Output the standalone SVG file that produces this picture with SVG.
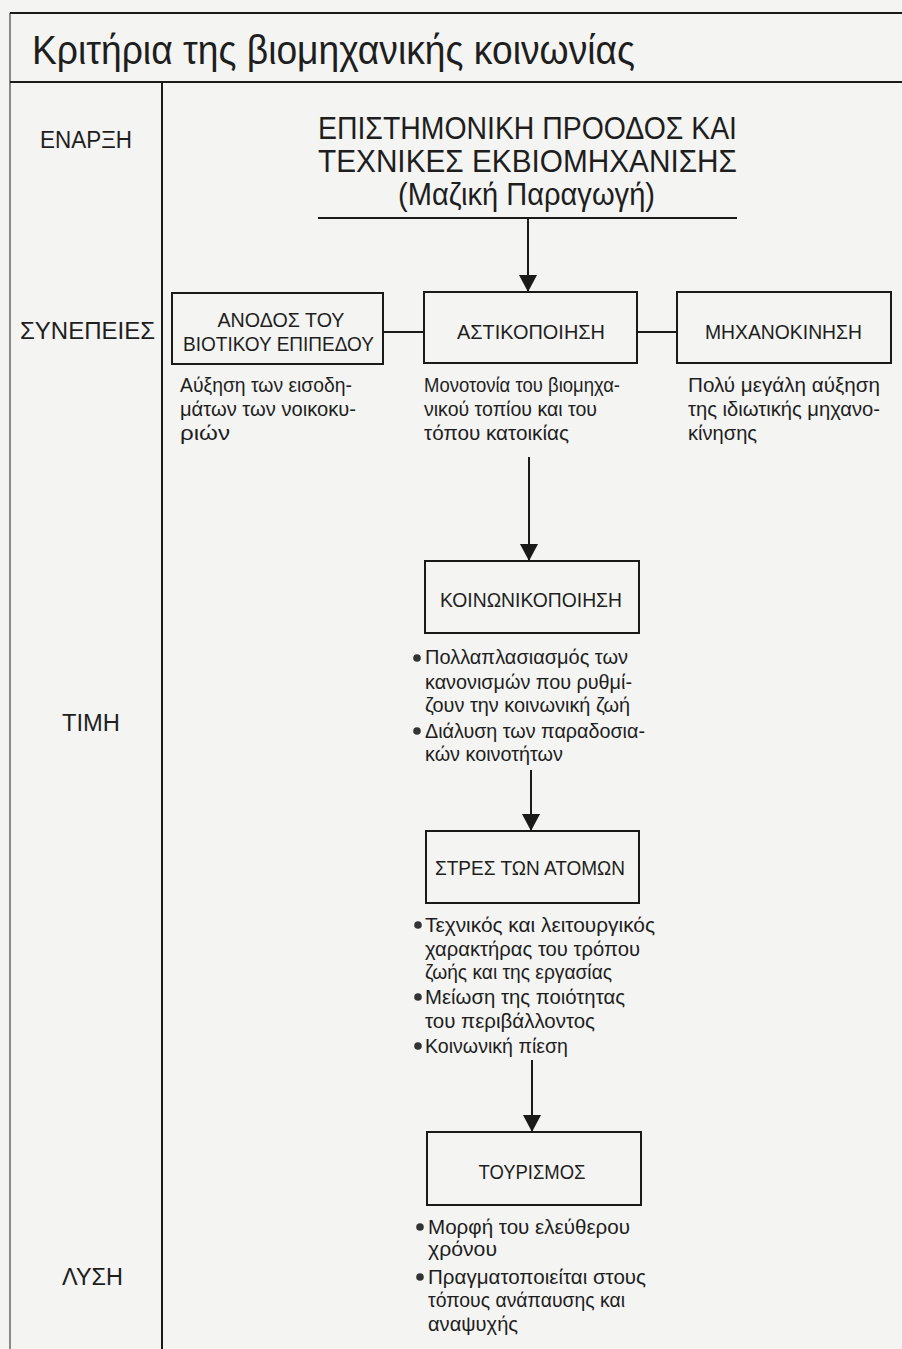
<svg xmlns="http://www.w3.org/2000/svg" width="902" height="1349" viewBox="0 0 902 1349">
<defs>
<style>
text{font-family:"Liberation Sans",Arial,sans-serif;fill:#1e1e1e}
.frame{stroke:#1a1a1a;stroke-width:2;fill:none}
.edge{stroke:#8a8a8a;stroke-width:2;fill:none}
.box{fill:none;stroke:#1a1a1a;stroke-width:2}
.con{stroke:#1a1a1a;stroke-width:2;fill:none}
.lbl{font-size:21px;text-anchor:middle}
.lbl2{font-size:20px;text-anchor:middle}
.desc{font-size:20px}
.bul{font-size:19.5px}
.side{font-size:23px}
.dot{fill:#333}
</style>
<marker id="arr" markerWidth="18" markerHeight="18" refX="17" refY="9" orient="auto" markerUnits="userSpaceOnUse">
<path d="M0,0 L17,9 L0,18 z" fill="#1a1a1a"/>
</marker>
</defs>
<rect x="0" y="0" width="902" height="1349" fill="#f4f4f2"/>

<g id="frame">
<line class="edge" x1="10" y1="13" x2="10" y2="1349"/>
<line class="frame" x1="10" y1="13" x2="902" y2="13"/>
<line class="frame" x1="10" y1="82" x2="902" y2="82"/>
<line class="frame" x1="162" y1="82" x2="162" y2="1349"/>
<text x="32" y="64" font-size="40" textLength="603" lengthAdjust="spacingAndGlyphs">Κριτήρια της βιομηχανικής κοινωνίας</text>
</g>

<g id="side-labels">
<text class="side" x="40" y="148" textLength="92" lengthAdjust="spacingAndGlyphs">ΕΝΑΡΞΗ</text>
<text class="side" x="20" y="339" font-size="25" textLength="135" lengthAdjust="spacingAndGlyphs">ΣΥΝΕΠΕΙΕΣ</text>
<text class="side" x="62" y="731" font-size="20" textLength="58" lengthAdjust="spacingAndGlyphs">ΤΙΜΗ</text>
<text class="side" x="62" y="1285" font-size="20" textLength="61" lengthAdjust="spacingAndGlyphs">ΛΥΣΗ</text>
</g>

<g id="connectors">
<line class="con" x1="318" y1="218" x2="737" y2="218"/>
<line class="con" x1="528" y1="218" x2="528" y2="292" marker-end="url(#arr)"/>
<line class="con" x1="383" y1="332" x2="424" y2="332"/>
<line class="con" x1="637" y1="332" x2="677" y2="332"/>
<line class="con" x1="529" y1="457" x2="529" y2="561" marker-end="url(#arr)"/>
<line class="con" x1="531" y1="770" x2="531" y2="831" marker-end="url(#arr)"/>
<line class="con" x1="532" y1="1060" x2="532" y2="1132" marker-end="url(#arr)"/>
</g>

<g id="n-start">
<text x="527.5" y="139" font-size="32" text-anchor="middle" textLength="419" lengthAdjust="spacingAndGlyphs">ΕΠΙΣΤΗΜΟΝΙΚΗ ΠΡΟΟΔΟΣ ΚΑΙ</text>
<text x="527.5" y="172" font-size="32" text-anchor="middle" textLength="419" lengthAdjust="spacingAndGlyphs">ΤΕΧΝΙΚΕΣ ΕΚΒΙΟΜΗΧΑΝΙΣΗΣ</text>
<text x="526.5" y="205" font-size="31" text-anchor="middle" textLength="257" lengthAdjust="spacingAndGlyphs">(Μαζική Παραγωγή)</text>
</g>

<g id="n-anodos">
<rect class="box" x="172" y="293" width="211" height="71"/>
<text class="lbl" x="281" y="327" textLength="127" lengthAdjust="spacingAndGlyphs">ΑΝΟΔΟΣ ΤΟΥ</text>
<text class="lbl" x="278.5" y="351" textLength="191" lengthAdjust="spacingAndGlyphs">ΒΙΟΤΙΚΟΥ ΕΠΙΠΕΔΟΥ</text>
<text class="desc" x="180" y="392" textLength="172" lengthAdjust="spacingAndGlyphs">Αύξηση των εισοδη-</text>
<text class="desc" x="180" y="416" textLength="176" lengthAdjust="spacingAndGlyphs">μάτων των νοικοκυ-</text>
<text class="desc" x="180" y="440" textLength="50" lengthAdjust="spacingAndGlyphs">ριών</text>
</g>

<g id="n-astikopoiisi">
<rect class="box" x="424" y="292" width="213" height="71"/>
<text class="lbl" x="531" y="339" textLength="148" lengthAdjust="spacingAndGlyphs">ΑΣΤΙΚΟΠΟΙΗΣΗ</text>
<text class="desc" x="424" y="392" textLength="196" lengthAdjust="spacingAndGlyphs">Μονοτονία του βιομηχα-</text>
<text class="desc" x="424" y="416" textLength="173" lengthAdjust="spacingAndGlyphs">νικού τοπίου και του</text>
<text class="desc" x="424" y="440" textLength="145" lengthAdjust="spacingAndGlyphs">τόπου κατοικίας</text>
</g>

<g id="n-michanokinisi">
<rect class="box" x="677" y="292" width="214" height="71"/>
<text class="lbl" x="783.5" y="339" textLength="157" lengthAdjust="spacingAndGlyphs">ΜΗΧΑΝΟΚΙΝΗΣΗ</text>
<text class="desc" x="688" y="392" textLength="192" lengthAdjust="spacingAndGlyphs">Πολύ μεγάλη αύξηση</text>
<text class="desc" x="688" y="416" textLength="192" lengthAdjust="spacingAndGlyphs">της ιδιωτικής μηχανο-</text>
<text class="desc" x="688" y="440" textLength="69" lengthAdjust="spacingAndGlyphs">κίνησης</text>
</g>

<g id="n-koinonikopoiisi">
<rect class="box" x="425" y="561" width="214" height="72"/>
<text class="lbl2" x="531" y="607" textLength="182" lengthAdjust="spacingAndGlyphs">ΚΟΙΝΩΝΙΚΟΠΟΙΗΣΗ</text>
<circle class="dot" cx="417" cy="658" r="3.8"/>
<text class="bul" x="425" y="664" textLength="203" lengthAdjust="spacingAndGlyphs">Πολλαπλασιασμός των</text>
<text class="bul" x="425" y="689" textLength="207" lengthAdjust="spacingAndGlyphs">κανονισμών που ρυθμί-</text>
<text class="bul" x="425" y="712" textLength="205" lengthAdjust="spacingAndGlyphs">ζουν την κοινωνική ζωή</text>
<circle class="dot" cx="417" cy="731" r="3.8"/>
<text class="bul" x="425" y="738" textLength="220" lengthAdjust="spacingAndGlyphs">Διάλυση των παραδοσια-</text>
<text class="bul" x="425" y="761" textLength="138" lengthAdjust="spacingAndGlyphs">κών κοινοτήτων</text>
</g>

<g id="n-stres">
<rect class="box" x="426" y="831" width="213" height="72"/>
<text class="lbl2" x="530" y="875" textLength="190" lengthAdjust="spacingAndGlyphs">ΣΤΡΕΣ ΤΩΝ ΑΤΟΜΩΝ</text>
<circle class="dot" cx="418" cy="925" r="3.8"/>
<text class="bul" x="425" y="932" textLength="230" lengthAdjust="spacingAndGlyphs">Τεχνικός και λειτουργικός</text>
<text class="bul" x="425" y="956" textLength="215" lengthAdjust="spacingAndGlyphs">χαρακτήρας του τρόπου</text>
<text class="bul" x="425" y="979" textLength="187" lengthAdjust="spacingAndGlyphs">ζωής και της εργασίας</text>
<circle class="dot" cx="418" cy="997" r="3.8"/>
<text class="bul" x="425" y="1004" textLength="200" lengthAdjust="spacingAndGlyphs">Μείωση της ποιότητας</text>
<text class="bul" x="425" y="1028" textLength="170" lengthAdjust="spacingAndGlyphs">του περιβάλλοντος</text>
<circle class="dot" cx="418" cy="1046" r="3.8"/>
<text class="bul" x="425" y="1053" textLength="143" lengthAdjust="spacingAndGlyphs">Κοινωνική πίεση</text>
</g>

<g id="n-tourismos">
<rect class="box" x="427" y="1132" width="214" height="73"/>
<text class="lbl2" x="532" y="1179" textLength="107" lengthAdjust="spacingAndGlyphs">ΤΟΥΡΙΣΜΟΣ</text>
<circle class="dot" cx="420" cy="1227" r="3.8"/>
<text class="bul" x="428" y="1234" textLength="202" lengthAdjust="spacingAndGlyphs">Μορφή του ελεύθερου</text>
<text class="bul" x="428" y="1256" textLength="69" lengthAdjust="spacingAndGlyphs">χρόνου</text>
<circle class="dot" cx="420" cy="1277" r="3.8"/>
<text class="bul" x="428" y="1284" textLength="218" lengthAdjust="spacingAndGlyphs">Πραγματοποιείται στους</text>
<text class="bul" x="428" y="1307" textLength="197" lengthAdjust="spacingAndGlyphs">τόπους ανάπαυσης και</text>
<text class="bul" x="428" y="1331" textLength="90" lengthAdjust="spacingAndGlyphs">αναψυχής</text>
</g>
</svg>
